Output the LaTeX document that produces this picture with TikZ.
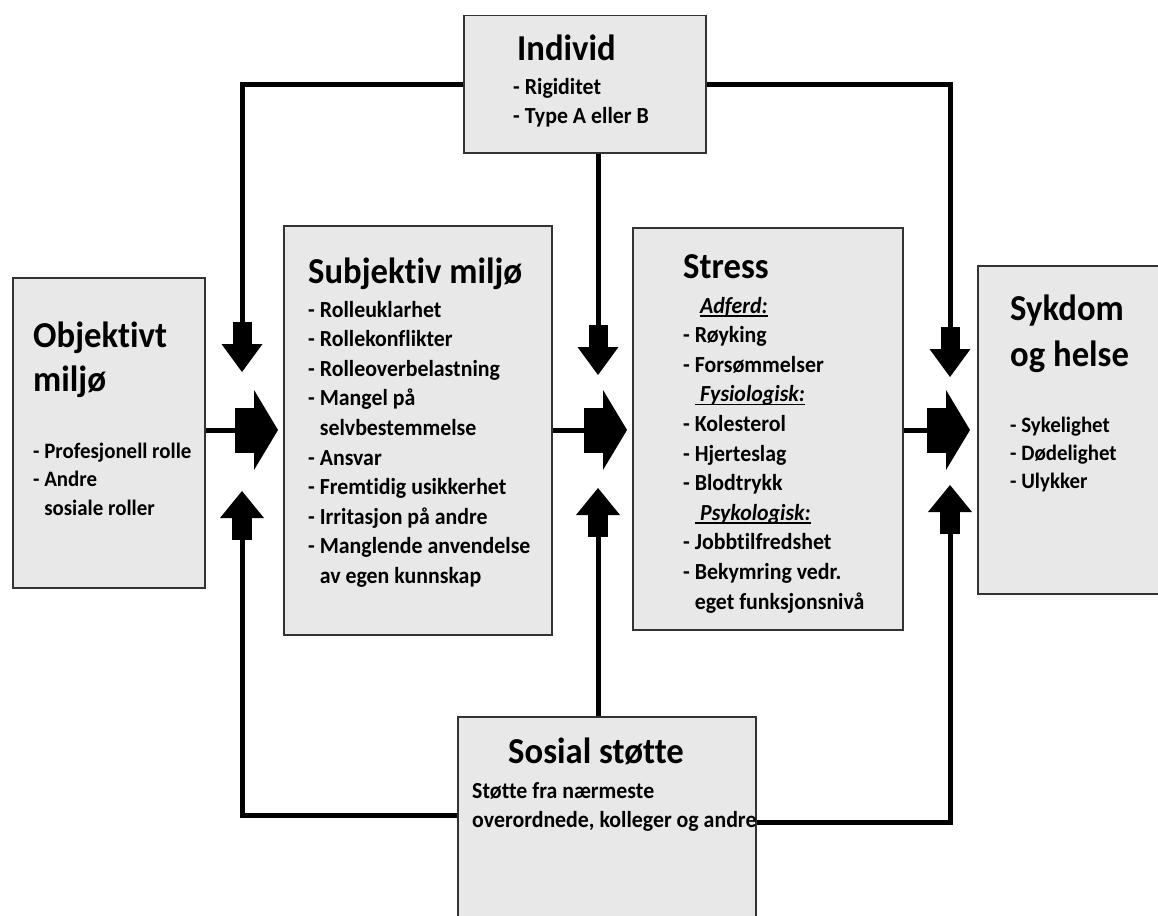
\documentclass[tikz,border=0pt]{standalone}
\usepackage{fontspec}
\setmainfont{Carlito}[Ligatures=NoCommon, FakeStretch=0.95]
\usetikzlibrary{arrows.meta}

% underlined sub heading, rule through the descenders
\newcommand\subhd[1]{\setbox0\hbox{\itshape #1}\rlap{\rule[-3.5pt]{\wd0}{1.4pt}}\box0}
\newcommand\ind{\phantom{- }}

\tikzset{
  box/.style={draw=black!80, line width=1.5pt, fill=black!9, anchor=north west, inner sep=0pt},
  ttl/.style={anchor=base west, inner sep=0pt, font=\bfseries\fontsize{36.5}{44}\selectfont},
  itm/.style={anchor=base west, inner sep=0pt, font=\bfseries\fontsize{23}{29.6}\selectfont},
  small/.style={font=\bfseries\fontsize{22}{28.5}\selectfont},
  conn/.style={line width=5pt},
  toright/.style={conn, -{Rectangle[length=19pt,width=45pt,line width=0pt,sep=0pt]Triangle[length=24pt,width=80pt,line width=0pt]}},
  todown/.style={conn, -{Rectangle[length=22pt,width=19pt,line width=0pt,sep=0pt]Triangle[length=28pt,width=41pt,line width=0pt]}},
  toup/.style={conn, -{Rectangle[length=22pt,width=20pt,line width=0pt,sep=0pt]Triangle[length=27pt,width=44pt,line width=0pt]}},
}

\begin{document}
\begin{tikzpicture}[x=1pt,y=-1pt]
    \clip (0,0) rectangle (1158,915);
    \fill[white] (0,0) rectangle (1158,915);

    % Boxes
    \node[box, minimum width=192pt, minimum height=310pt] (obj) at (12,277) {};
    \node[box, minimum width=268pt, minimum height=409pt] (subj) at (283,225) {};
    \node[box, minimum width=270pt, minimum height=402pt] (stress) at (632,227) {};
    \node[box, minimum width=200pt, minimum height=328pt] (syk) at (977,265) {};
    \node[box, minimum width=242pt, minimum height=137pt] (indiv) at (463,15) {};
    \node[box, minimum width=298pt, minimum height=220pt] (sosial) at (457,716) {};

    % Texts
    \node[ttl] (objT) at (33,347) {\parbox[t]{200pt}{Objektivt\\miljø}};
    \node[itm, small] (objL) at (33,458) {\parbox[t]{200pt}{- Profesjonell rolle\\- Andre\\\ind sosiale roller}};

    \node[ttl] (subjT) at (308,283) {Subjektiv miljø};
    \node[itm] (subjL) at (308,317) {\parbox[t]{300pt}{- Rolleuklarhet\\- Rollekonflikter\\- Rolleoverbelastning\\- Mangel på\\\ind selvbestemmelse\\- Ansvar\\- Fremtidig usikkerhet\\- Irritasjon på andre\\- Manglende anvendelse\\\ind av egen kunnskap}};

    \node[ttl] (stressT) at (683,278) {Stress};
    \node[itm] (stressL) at (683,313) {\parbox[t]{300pt}{\hspace*{17pt}\subhd{Adferd:}\\- Røyking\\- Forsømmelser\\\hspace*{12pt}\subhd{\hspace{5pt}Fysiologisk:}\\- Kolesterol\\- Hjerteslag\\- Blodtrykk\\\hspace*{12pt}\subhd{\hspace{5pt}Psykologisk:}\\- Jobbtilfredshet\\- Bekymring vedr.\\\ind eget funksjonsnivå}};

    \node[ttl, font=\bfseries\fontsize{36.5}{46}\selectfont] (sykT) at (1010,320) {\parbox[t]{200pt}{Sykdom\\og helse}};
    \node[itm, font=\bfseries\fontsize{22}{28}\selectfont] (sykL) at (1010,432) {\parbox[t]{200pt}{- Sykelighet\\- Dødelighet\\- Ulykker}};

    \node[ttl] (indivT) at (517,61) {Individ};
    \node[itm, font=\bfseries\fontsize{23}{28.5}\selectfont] (indivL) at (513,95) {\parbox[t]{200pt}{- Rigiditet\\- Type A eller B}};

    \node[ttl] (sosialT) at (508,763) {Sosial støtte};
    \node[itm, font=\bfseries\fontsize{23}{29}\selectfont] (sosialL) at (472,798) {\parbox[t]{400pt}{Støtte fra nærmeste\\overordnede, kolleger og andre}};

    % Arrow ends between the boxes
    \coordinate (ldown) at (242,372);
    \coordinate (lup) at (242,491);
    \coordinate (mdown) at (598,375);
    \coordinate (mup) at (598,488);
    \coordinate (rdown) at (950,377);
    \coordinate (rup) at (950,485);

    % Main chain
    \draw[toright, shorten >=5pt] (obj.east |- 0,430) -- (subj.west |- 0,430);
    \draw[toright, shorten >=5pt] (subj.east |- 0,430) -- (stress.west |- 0,430);
    \draw[toright, shorten >=7pt] (stress.east |- 0,430) -- (syk.west |- 0,430);

    % Individ
    \draw[todown] (indiv.west) -| (ldown);
    \draw[todown] (indiv.south -| mdown) -- (mdown);
    \draw[todown] (indiv.east) -| (rdown);

    % Sosial stotte
    \draw[toup] (sosial.west |- 0,815) -| (lup);
    \draw[toup] (sosial.north -| mup) -- (mup);
    \draw[toup] (sosial.east |- 0,822) -| (rup);
\end{tikzpicture}
\end{document}
